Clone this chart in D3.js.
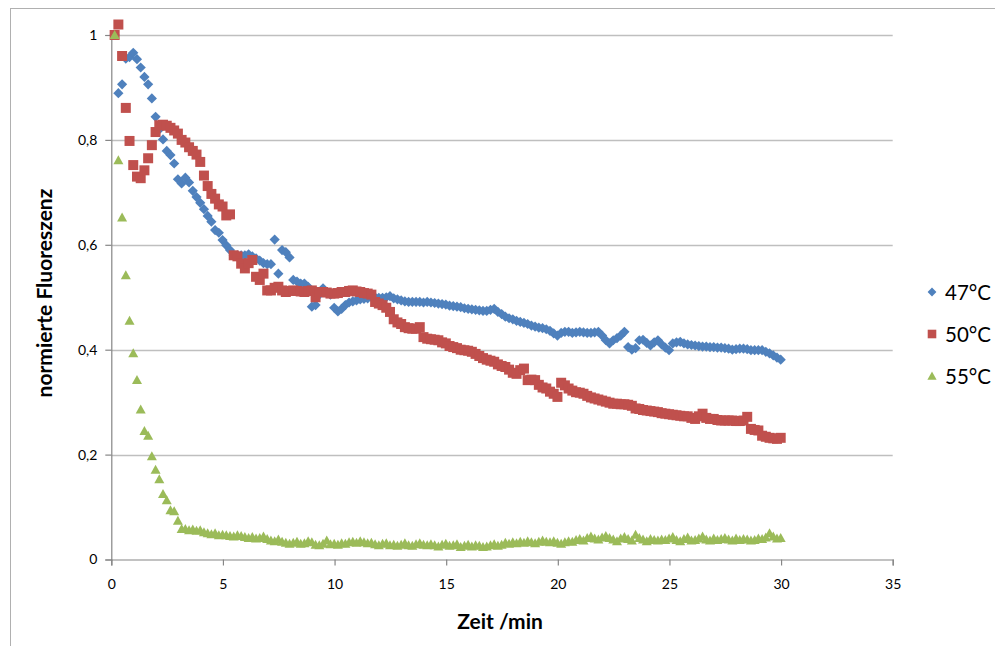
<!DOCTYPE html>
<html><head><meta charset="utf-8">
<script src="https://cdn.jsdelivr.net/npm/d3@7"></script>
<style>
html,body{margin:0;padding:0;background:#fff;}
svg{display:block;font-family:Lato,"Open Sans",sans-serif;}
</style></head>
<body>
<svg id="c" width="995" height="646"></svg>
<script>
// time axis: first sample 0.15 min, then every 10 s
const t0 = 0.15, dt = 1/6;
const seriesNames = ["47°C","50°C","55°C"];
const colors = ["#4F81BD","#C0504D","#9BBB59"];
const xTicks = [0,5,10,15,20,25,30,35];
const yTicks = [0,0.2,0.4,0.6,0.8,1];
const yTickLabels = ["0","0,2","0,4","0,6","0,8","1"];

const s47 = [1.0,0.889,0.906,0.955,0.958,0.966,0.954,0.938,0.92,0.906,
0.879,0.844,0.82,0.801,0.779,0.771,0.755,0.725,0.717,0.728,
0.719,0.703,0.691,0.68,0.668,0.655,0.644,0.628,0.623,0.609,
0.599,0.59,0.58,0.58,0.58,0.58,0.582,0.578,0.574,0.57,
0.565,0.563,0.563,0.61,0.545,0.59,0.586,0.576,0.533,0.53,
0.526,0.526,0.52,0.482,0.485,0.505,0.517,0.51,0.505,0.48,
0.473,0.478,0.485,0.49,0.492,0.494,0.496,0.497,0.498,0.5,
0.5,0.499,0.499,0.5,0.502,0.498,0.496,0.494,0.492,0.491,
0.491,0.491,0.491,0.49,0.491,0.49,0.489,0.488,0.487,0.486,
0.484,0.483,0.482,0.481,0.479,0.478,0.477,0.476,0.475,0.474,
0.474,0.476,0.478,0.472,0.468,0.463,0.46,0.458,0.455,0.453,
0.451,0.449,0.446,0.444,0.442,0.441,0.439,0.436,0.431,0.427,
0.432,0.434,0.434,0.432,0.433,0.434,0.433,0.432,0.432,0.433,
0.434,0.427,0.418,0.412,0.418,0.422,0.427,0.434,0.405,0.4,
0.403,0.418,0.419,0.413,0.408,0.414,0.418,0.41,0.404,0.399,
0.412,0.414,0.415,0.412,0.41,0.409,0.408,0.407,0.406,0.406,
0.405,0.405,0.404,0.404,0.403,0.402,0.4,0.401,0.402,0.402,
0.401,0.399,0.399,0.399,0.399,0.396,0.393,0.389,0.385,0.381];

const s50 = [1.0,1.02,0.96,0.861,0.798,0.752,0.73,0.727,0.742,0.765,
0.79,0.815,0.828,0.829,0.827,0.823,0.818,0.812,0.8,0.795,
0.786,0.779,0.772,0.758,0.732,0.712,0.697,0.688,0.677,0.673,
0.656,0.658,0.58,0.578,0.564,0.555,0.565,0.571,0.539,0.533,
0.545,0.513,0.513,0.518,0.52,0.513,0.51,0.512,0.513,0.512,
0.511,0.51,0.512,0.513,0.5,0.51,0.51,0.509,0.507,0.507,
0.508,0.51,0.51,0.512,0.513,0.511,0.51,0.508,0.507,0.505,
0.491,0.488,0.485,0.48,0.472,0.458,0.452,0.449,0.443,0.441,
0.44,0.44,0.443,0.424,0.421,0.42,0.419,0.418,0.414,0.412,
0.407,0.405,0.403,0.4,0.399,0.398,0.396,0.392,0.388,0.384,
0.381,0.379,0.377,0.372,0.369,0.367,0.362,0.356,0.354,0.361,
0.364,0.342,0.343,0.342,0.333,0.328,0.326,0.32,0.316,0.31,
0.337,0.332,0.326,0.322,0.319,0.318,0.316,0.312,0.309,0.307,
0.305,0.303,0.301,0.299,0.297,0.297,0.296,0.296,0.295,0.293,
0.288,0.287,0.285,0.284,0.283,0.282,0.281,0.279,0.278,0.277,
0.276,0.275,0.274,0.273,0.273,0.27,0.268,0.273,0.278,0.27,
0.268,0.268,0.266,0.265,0.265,0.265,0.265,0.264,0.264,0.265,
0.272,0.249,0.247,0.246,0.236,0.234,0.232,0.231,0.23,0.232];

const s55 = [1.0,0.761,0.652,0.542,0.455,0.393,0.342,0.286,0.245,0.236,
0.197,0.171,0.153,0.125,0.113,0.094,0.092,0.074,0.058,0.058,
0.056,0.057,0.055,0.056,0.052,0.05,0.048,0.05,0.046,0.047,
0.046,0.045,0.044,0.046,0.045,0.043,0.041,0.043,0.04,0.041,
0.044,0.039,0.036,0.035,0.038,0.034,0.032,0.03,0.032,0.034,
0.03,0.031,0.035,0.033,0.028,0.027,0.03,0.036,0.029,0.03,
0.028,0.031,0.03,0.033,0.034,0.032,0.035,0.033,0.031,0.032,
0.029,0.027,0.03,0.031,0.027,0.028,0.026,0.028,0.031,0.027,
0.026,0.029,0.031,0.028,0.027,0.029,0.027,0.025,0.028,0.03,
0.026,0.027,0.029,0.024,0.026,0.028,0.025,0.027,0.026,0.024,
0.025,0.027,0.029,0.026,0.028,0.032,0.03,0.033,0.031,0.034,
0.032,0.035,0.033,0.031,0.034,0.036,0.034,0.033,0.035,0.032,
0.03,0.033,0.035,0.034,0.037,0.039,0.036,0.041,0.044,0.04,
0.038,0.042,0.045,0.041,0.038,0.035,0.04,0.043,0.039,0.036,
0.047,0.041,0.038,0.035,0.039,0.037,0.036,0.038,0.037,0.04,
0.043,0.037,0.035,0.039,0.042,0.036,0.037,0.04,0.044,0.038,
0.036,0.04,0.037,0.039,0.041,0.038,0.036,0.04,0.037,0.039,
0.038,0.036,0.037,0.04,0.039,0.042,0.05,0.044,0.04,0.041];

const allSeries = [s47, s50, s55];

const svg = d3.select("#c");
const L = 111.3, R = 892.7, T = 35, B = 559.5;
const x = d3.scaleLinear().domain([0,35]).range([L,R]);
const y = d3.scaleLinear().domain([0,1]).range([B,T]);

// outer frame
svg.append("rect").attr("x",10.5).attr("y",8.5).attr("width",1000).attr("height",1000)
  .attr("fill","none").attr("stroke","#b0b0b0").attr("stroke-width",1);

// gridlines
svg.append("g").selectAll("line").data(yTicks.filter(d=>d>0)).join("line")
  .attr("x1",L).attr("x2",R).attr("y1",d=>Math.round(y(d))+0.5).attr("y2",d=>Math.round(y(d))+0.5)
  .attr("stroke","#bfbfbf").attr("stroke-width",1.3);

// y axis
const yAxis = d3.axisLeft(y).tickValues(yTicks).tickFormat((d,i)=>yTickLabels[i]).tickSize(6).tickPadding(8);
const gy = svg.append("g").attr("transform",`translate(${L},0)`).call(yAxis);
// x axis
const xAxis = d3.axisBottom(x).tickValues(xTicks).tickSize(6).tickPadding(14);
const gx = svg.append("g").attr("transform",`translate(0,${B})`).call(xAxis);
[gx,gy].forEach(g=>{
  g.select(".domain").attr("stroke","#868686").attr("stroke-width",1.2);
  g.selectAll(".tick line").attr("stroke","#868686").attr("stroke-width",1.2);
  g.selectAll(".tick text").attr("fill","#000").style("font-size","14px").style("font-family","Lato, sans-serif");
});

// markers
const diamond = r => `M0,${-r}L${r},0L0,${r}L${-r},0Z`;
const square = r => `M${-r},${-r}H${r}V${r}H${-r}Z`;
const tri = r => `M0,${-r}L${r},${r*0.8}L${-r},${r*0.8}Z`;
const shapes = [diamond, square, tri];
const sizes = [5.1, 5.0, 5.0];

allSeries.forEach((s,k)=>{
  svg.append("g").selectAll("path").data(s).join("path")
    .attr("transform",(d,i)=>`translate(${x(t0+i*dt)},${y(d)})`)
    .attr("d",shapes[k](sizes[k]))
    .attr("fill",colors[k]);
});

// axis titles
svg.append("text").attr("x",500).attr("y",629).attr("text-anchor","middle")
  .style("font-weight","bold").style("font-size","21px").text("Zeit /min");
svg.append("text").attr("transform","translate(52,293) rotate(-90)").attr("text-anchor","middle")
  .style("font-weight","bold").style("font-size","21px").text("normierte Fluoreszenz");

// legend
const lg = svg.append("g");
const legendY = [292,334,376];
const lshapes = [diamond(4.4), square(4.3), tri(4.6)];
seriesNames.forEach((n,k)=>{
  lg.append("path").attr("transform",`translate(932,${legendY[k]})`).attr("d",lshapes[k]).attr("fill",colors[k]);
  lg.append("text").attr("x",945).attr("y",legendY[k]+7.5).style("font-size","20.5px").text(n);
});
</script>
</body></html>
